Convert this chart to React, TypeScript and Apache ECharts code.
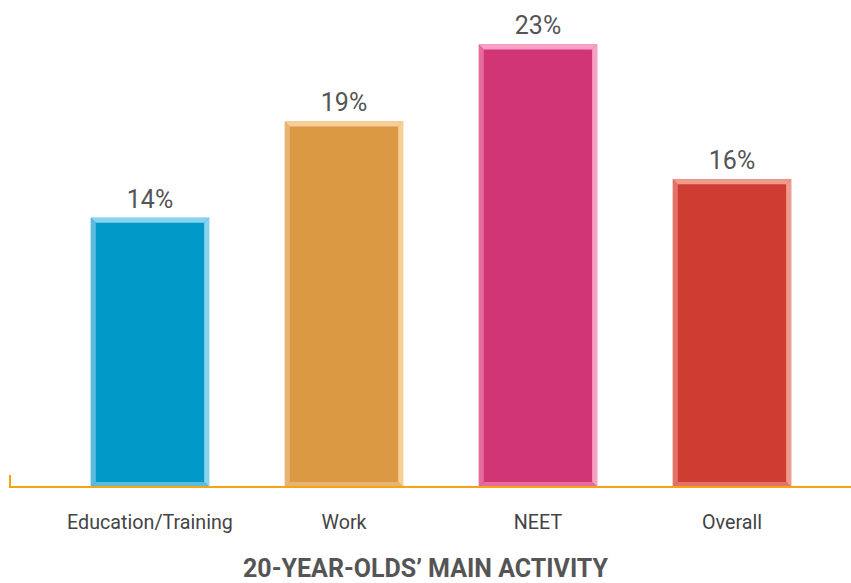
import React, { useEffect, useRef } from "react";
import * as echarts from "echarts";

const categories = ["Education/Training", "Work", "NEET", "Overall"];
const values = [14, 19, 23, 16];
const fillColors = ["#0099C8", "#DC9944", "#D23576", "#CF3C32"];
const lightColors = ["#86D4F0", "#F7CE96", "#F7A2C4", "#F19A8E"];
const midColors = ["#5CBCE0", "#E9B374", "#E66C9E", "#E27368"];
const title = "20-YEAR-OLDS\u2019 MAIN ACTIVITY";

export default function App() {
  const ref = useRef<HTMLDivElement>(null);
  useEffect(() => {
    const chart = echarts.init(ref.current!, null, { renderer: "svg" });
    const renderItem = (params: any, api: any) => {
      const i = params.dataIndex;
      const v = api.value(1);
      const top = api.coord([api.value(0), v]);
      const base = api.coord([api.value(0), 0]);
      const band = api.size([1, 0])[0];
      const w = band * 0.61;
      const x0 = top[0] - w / 2;
      const x1 = x0 + w;
      const y0 = top[1];
      const y1 = base[1];
      const b = 5;
      return {
        type: "group",
        children: [
          { type: "rect", shape: { x: x0, y: y0, width: w, height: y1 - y0 }, style: { fill: fillColors[i] } },
          { type: "polygon", shape: { points: [[x0, y0], [x1, y0], [x1 - b, y0 + b], [x0 + b, y0 + b]] }, style: { fill: lightColors[i] } },
          { type: "polygon", shape: { points: [[x0, y0], [x0 + b, y0 + b], [x0 + b, y1 - b], [x0, y1]] }, style: { fill: midColors[i] } },
          { type: "polygon", shape: { points: [[x1, y0], [x1, y1], [x1 - b, y1 - b], [x1 - b, y0 + b]] }, style: { fill: lightColors[i] } },
          { type: "polygon", shape: { points: [[x0, y1], [x0 + b, y1 - b], [x1 - b, y1 - b], [x1, y1]] }, style: { fill: midColors[i] } },
          {
            type: "text",
            x: top[0],
            y: y0 - 6,
            style: {
              text: v + "%",
              fill: "#555555",
              fontSize: 25,
              fontFamily: "Roboto",
              align: "center",
              verticalAlign: "bottom",
            },
          },
        ],
      };
    };
    chart.setOption({
      animation: false,
      backgroundColor: "#ffffff",
      title: {
        text: title,
        left: "center",
        top: 556,
        padding: 0,
        textStyle: { fontSize: 25, fontWeight: "bold", color: "#555555", fontFamily: "Roboto" },
      },
      grid: { left: 53, right: 22, top: 6, bottom: 96, containLabel: false },
      xAxis: {
        type: "category",
        data: categories,
        axisLine: { show: false },
        axisTick: { show: false },
        axisLabel: { color: "#444444", fontSize: 19.7, fontFamily: "Roboto", margin: 25, interval: 0 },
      },
      yAxis: {
        type: "value",
        min: 0,
        max: 25,
        show: false,
        splitLine: { show: false },
      },
      graphic: [
        {
          type: "polyline",
          shape: { points: [[10, 475], [10, 487], [851, 487]] },
          style: { stroke: "#F5A418", lineWidth: 2, fill: "none" },
          z: 10,
        },
      ],
      series: [
        {
          type: "custom",
          renderItem,
          data: values.map((v, i) => [i, v]),
          encode: { x: 0, y: 1 },
        },
      ],
    });
    return () => chart.dispose();
  }, []);
  return <div ref={ref} style={{ position: "fixed", left: 0, top: 0, width: 851, height: 583 }} />;
}
